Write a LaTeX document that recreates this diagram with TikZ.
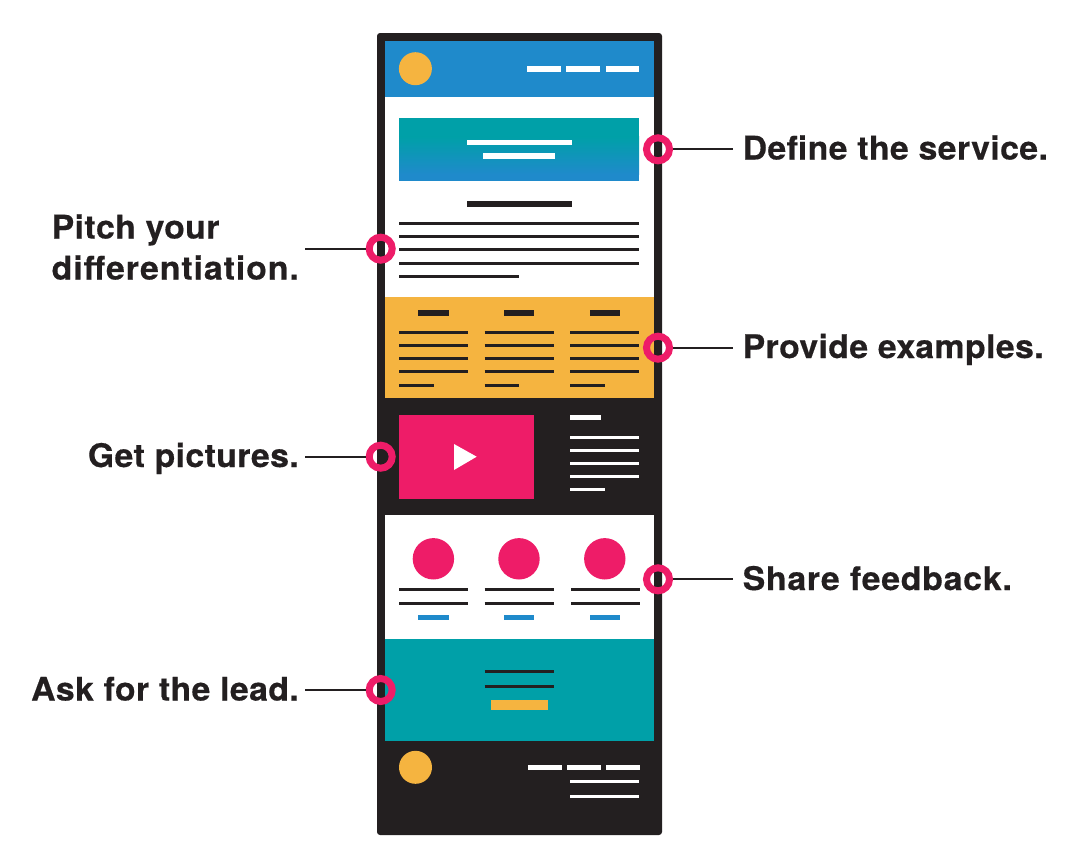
\documentclass[tikz,border=0pt]{standalone}
\usepackage{fontspec}
\setmainfont{TeX Gyre Heros}
\newfontfamily\labfont[UprightFont={* Bold},FakeStretch=1.04,LetterSpace=1.2,FakeBold=0.4]{TeX Gyre Heros}
\newfontfamily\labfontB[UprightFont={* Bold},FakeStretch=1.04,LetterSpace=2.9,FakeBold=0.4]{TeX Gyre Heros}
\newfontfamily\labfontC[UprightFont={* Bold},FakeStretch=1.04,LetterSpace=2.3,FakeBold=0.4]{TeX Gyre Heros}
\definecolor{ink}{HTML}{231F20}
\definecolor{sky}{HTML}{1F8ACB}
\definecolor{amber}{HTML}{F5B440}
\definecolor{rose}{HTML}{EE1C68}
\definecolor{teal2}{HTML}{00A0A8}
\tikzset{
  ring/.style={circle,draw=rose,line width=7pt,minimum size=23pt,inner sep=0pt,fill=none},
  lab/.style={font=\labfont\fontsize{32.5}{41}\selectfont,text=ink,inner sep=0pt},
  labwide/.style={font=\labfontB\fontsize{32.5}{41}\selectfont,text=ink,inner sep=0pt},
  labmid/.style={font=\labfontC\fontsize{32.5}{41}\selectfont,text=ink,inner sep=0pt},
  lead/.style={draw=ink,line width=1.7pt},
  ruleK/.style={draw=ink,line width=3pt},
  ruleW/.style={draw=white,line width=3pt}
}
\begin{document}
\begin{tikzpicture}[x=1pt,y=-1pt]
\useasboundingbox (0,0) rectangle (1080,868);
% frame
\fill[ink,rounded corners=3pt] (377,33) rectangle (662,835);
\fill[sky] (384.8,41) rectangle (654.3,97);
\fill[white] (384.8,97) rectangle (654.3,297.3);
\fill[amber] (384.8,297.3) rectangle (654.3,398.3);
\fill[white] (384.8,515.3) rectangle (654.3,639.3);
\fill[teal2] (384.8,639.3) rectangle (654.3,740.7);
% header
\fill[amber] (415.4,68.7) circle (16.5);
\foreach \a/\b in {527.3/561,566.3/600.3,605.7/639.3}{\fill[white] (\a,66) rectangle (\b,71.6);}
% hero
\fill[teal2] (399.3,118) rectangle (639.2,137);
\shade[top color=teal2,bottom color=sky] (399.3,136.8) rectangle (639.2,174.2);
\fill[sky] (399.3,174) rectangle (639.2,180.7);
\fill[white] (466.7,139.7) rectangle (571.7,145);
\fill[white] (483.3,153.3) rectangle (555,159);
% intro
\fill[ink] (467,201.3) rectangle (571.7,206.7);
\foreach \y in {223.3,236.7,249.7,263}{\draw[ruleK] (399,\y) -- (639.2,\y);}
\draw[ruleK] (399,276) -- (519.3,276);
% orange columns
\foreach \a/\b/\c/\d in {399/468/433.7/418.3,484.7/553.7/519.3/504,570/639.2/605/589.7}{
  \fill[ink] (\d,310.3) rectangle (\d+30.4,315.7);
  \foreach \y in {332.3,345.7,358.7,371.7}{\draw[ruleK] (\a,\y) -- (\b,\y);}
  \draw[ruleK] (\a,385) -- (\c,385);
}
% video
\fill[rose] (399,415) rectangle (534.3,499);
\fill[white] (454,444) -- (476.7,456.7) -- (454,470) -- cycle;
\fill[white] (570,415) rectangle (600.7,420.3);
\foreach \y in {437,450.3,463.3,476.7}{\draw[ruleW] (570,\y) -- (639.2,\y);}
\draw[ruleW] (570,489.3) -- (605,489.3);
% testimonials
\foreach \a/\b/\m/\d in {399/468/433.4/418.3,484.7/553.7/519/504,571/640/604.8/589.7}{
  \fill[rose] (\m,558.8) circle (20.7);
  \draw[ruleK] (\a,589) -- (\b,589);
  \draw[ruleK] (\a,603) -- (\b,603);
  \fill[sky] (\d,615) rectangle (\d+30.4,620.3);
}
% call to action
\draw[ruleK] (484.7,671.7) -- (553.7,671.7);
\draw[ruleK] (484.7,686) -- (553.7,686);
\fill[amber] (491,700) rectangle (547.7,710);
% footer
\fill[amber] (415.5,767.3) circle (16.5);
\foreach \a/\b in {527.5/561.5,566.5/600.5,606/639.5}{\fill[white] (\a,765) rectangle (\b,770.3);}
\draw[ruleW] (570,781.7) -- (639.2,781.7);
\draw[ruleW] (570,796.3) -- (639.2,796.3);
% rings
\node[ring] (r1) at (658,149.3) {};
\node[ring] (r2) at (380.7,248.7) {};
\node[ring] (r3) at (658,347.7) {};
\node[ring] (r4) at (380.7,456.7) {};
\node[ring] (r5) at (658,579.3) {};
\node[ring] (r6) at (380.7,690) {};
% labels
\node[lab,anchor=base west] (l1) at (742.5,159.5) {Define the service.};
\node[lab,anchor=base west] (l2a) at (51.5,238.5) {Pitch your};
\node[labwide,anchor=base west] (l2b) at (51.5,279.5) {differentiation.};
\node[lab,anchor=base west] (l3) at (742.5,358) {Provide examples.};
\node[lab,anchor=base east] (l4) at (299,467) {Get pictures.};
\node[labmid,anchor=base west] (l5) at (742.5,590) {Share feedback.};
\node[lab,anchor=base east] (l6) at (299,700.5) {Ask for the lead.};
% connectors
\coordinate (e1) at (733,149.3);
\coordinate (e2) at (305,248.7);
\coordinate (e3) at (733,347.7);
\coordinate (e4) at (305,456.7);
\coordinate (e5) at (733,579.3);
\coordinate (e6) at (305,690);
\foreach \n in {1,...,6}{\draw[lead] (r\n) -- (e\n);}
\end{tikzpicture}
\end{document}
